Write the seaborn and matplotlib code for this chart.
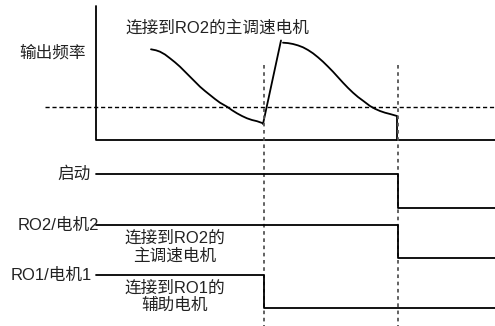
import matplotlib
matplotlib.use("Agg")
import matplotlib.pyplot as plt
import seaborn as sns
import pandas as pd

sns.set_style("white")
plt.rcParams['font.family'] = ['Liberation Sans', 'Noto Sans CJK SC', 'DejaVu Sans']

# ---- data (diagram units: x = time position, y = vertical position, top = 0) ----
t_switch1 = 264          # RO2 motor connected
t_switch2 = 398          # stop
t_axis0, t_end = 96, 495
freq_axis_top, freq_axis_base = 6, 140
freq_threshold = 107

curve1_t = [151, 156, 160, 165, 170, 175, 180, 185, 190, 195, 200, 205, 210, 215,
            220, 227, 232, 237, 242, 247, 252, 257, 263]
curve1_f = [49.3, 50.3, 51.7, 54.5, 58.3, 62.3, 66.7, 71.7, 76.7, 81.7, 86.7, 91,
            95, 99, 102.7, 106.7, 110.2, 113.3, 116, 118.3, 120, 121.2, 123.3]
ramp_t = [263, 281]
ramp_f = [124, 40.5]
curve2_t = [283, 288, 293, 298, 303, 308, 313, 318, 323, 328, 333, 338, 343, 348,
            353, 358, 363, 370, 375, 380, 385, 390, 397, 397]
curve2_f = [42.7, 43.1, 44, 45.4, 47.3, 50, 53.3, 57.3, 61.7, 66.6, 71.7, 77.2,
            82.7, 87.9, 92.7, 97, 100.7, 106, 108.8, 111, 112.7, 114, 116, 140]

signal_names = ['启动', 'RO2/电机2', 'RO1/电机1']
signal_high = [174, 225, 275]
signal_low = [208, 258, 308]
signal_drop = [t_switch2, t_switch2, t_switch1]
label_right = [91, 99, 92]

fig = plt.figure(figsize=(4.95, 3.26), dpi=100)
ax = fig.add_axes([0, 0, 1, 1])
ax.set_xlim(0, 495)
ax.set_ylim(326, 0)
ax.axis('off')

lw = 1.3
ink = '#222222'
# frequency axes
ax.plot([t_axis0, t_axis0, t_end], [freq_axis_top, freq_axis_base, freq_axis_base],
        color='black', lw=lw)
ax.plot([45, t_end], [freq_threshold, freq_threshold], color='black', lw=1.0,
        ls=(0, (3, 2)))

# frequency curves
for xs, ys in [(curve1_t, curve1_f), (ramp_t, ramp_f), (curve2_t, curve2_f)]:
    sns.lineplot(x=xs, y=ys, ax=ax, color='black', lw=lw, sort=False,
                 estimator=None)

# switching instants
for t in [t_switch1, t_switch2]:
    ax.plot([t, t], [65, 326], color='#555555', lw=1.3, ls=(0, (2, 2)))

# digital signals
for name, hi, lo, td, xr in zip(signal_names, signal_high, signal_low,
                                signal_drop, label_right):
    df = pd.DataFrame({'t': [t_axis0, td, td, t_end], 'y': [hi, hi, lo, lo]})
    sns.lineplot(data=df, x='t', y='y', ax=ax, color='black', lw=lw, sort=False,
                 estimator=None)
    ax.text(xr, hi, name, ha='right', va='center', fontsize=12, color=ink)

fs = 12
ax.text(19, 53, '输出频率', ha='left', va='center', fontsize=fs, color=ink)
ax.text(125, 28, '连接到RO2的主调速电机', ha='left', va='center', fontsize=fs,
        color=ink)
ax.text(175, 247, '连接到RO2的\n主调速电机', ha='center', va='center', fontsize=fs,
        color=ink, linespacing=1.15)
ax.text(175, 297, '连接到RO1的\n辅助电机', ha='center', va='center', fontsize=fs,
        color=ink, linespacing=1.15)

ax.set_xlabel('')
ax.set_ylabel('')
fig.savefig('out.png', dpi=100)
